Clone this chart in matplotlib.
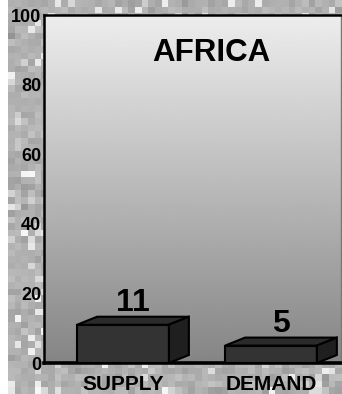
import matplotlib
matplotlib.use('Agg')
import matplotlib.pyplot as plt
from matplotlib.patches import Polygon
import numpy as np

plt.rcParams['font.family'] = ['Liberation Sans', 'DejaVu Sans']
plt.rcParams['font.weight'] = 'bold'

title = 'AFRICA'
categories = ['SUPPLY', 'DEMAND']
values = [11, 5]
yticks = [0, 20, 40, 60, 80, 100]

W, H = 342, 394
fig = plt.figure(figsize=(W / 100, H / 100), dpi=100)
fig.patch.set_facecolor('white')

# grainy grey backdrop behind the whole chart
bg = fig.add_axes([8 / W, 0, 1 - 8 / W, 1], zorder=0)
rng = np.random.default_rng(7)
tex = rng.normal(0.69, 0.035, (60, 50))
light = rng.random((60, 50)) > 0.9
tex[light] = rng.uniform(0.8, 0.97, light.sum())
tex = np.clip(tex, 0.5, 1.0)
bg.imshow(tex, cmap='gray', vmin=0, vmax=1, aspect='auto', interpolation='nearest')
bg.axis('off')

ax = fig.add_axes([44 / W, (H - 363) / H, (341 - 44) / W, (363 - 15) / H], zorder=1)
ax.set_xlim(-0.534, 1.473)
ax.set_ylim(0, 100)

# vertical shading of the plot area
grad = np.linspace(0.93, 0.52, 256).reshape(-1, 1)
ax.imshow(grad, cmap='gray', vmin=0, vmax=1, aspect='auto',
          extent=[-0.534, 1.473, 0, 100], zorder=0)

bw = 0.62
dx, dy = 0.135, 2.3
for i, v in enumerate(values):
    x0, x1 = i - bw / 2, i + bw / 2
    front = Polygon([(x0, 0), (x1, 0), (x1, v), (x0, v)], closed=True,
                    facecolor='#333333', edgecolor='black', lw=1.5, zorder=3)
    top = Polygon([(x0, v), (x1, v), (x1 + dx, v + dy), (x0 + dx, v + dy)], closed=True,
                  facecolor='#2b2b2b', edgecolor='black', lw=1.5, zorder=3)
    side = Polygon([(x1, 0), (x1 + dx, dy), (x1 + dx, v + dy), (x1, v)], closed=True,
                   facecolor='#1f1f1f', edgecolor='black', lw=1.5, zorder=3)
    for p in (front, top, side):
        ax.add_patch(p)
    ax.text(i + dx / 2, v + dy + 1.6, str(v), ha='center', va='baseline',
            fontsize=23, fontweight='bold', zorder=4)

ax.text(0.595, 93.5, title, ha='center', va='top', fontsize=22.5, fontweight='bold', zorder=4)

ax.set_yticks(yticks)
ax.set_yticklabels([str(t) for t in yticks], fontsize=13, fontweight='bold')
ax.set_xticks([0, 1])
ax.set_xticklabels(categories, fontsize=15, fontweight='bold')
ax.tick_params(axis='both', length=0)
ax.tick_params(axis='y', pad=2)
ax.tick_params(axis='x', pad=9)

for s in ('left', 'top'):
    ax.spines[s].set_linewidth(1.8)
    ax.spines[s].set_color('black')
ax.spines['bottom'].set_linewidth(2.6)
ax.spines['bottom'].set_color('black')
ax.spines['right'].set_linewidth(1.0)
ax.spines['right'].set_color('#777777')

fig.savefig('out.png', dpi=100)
